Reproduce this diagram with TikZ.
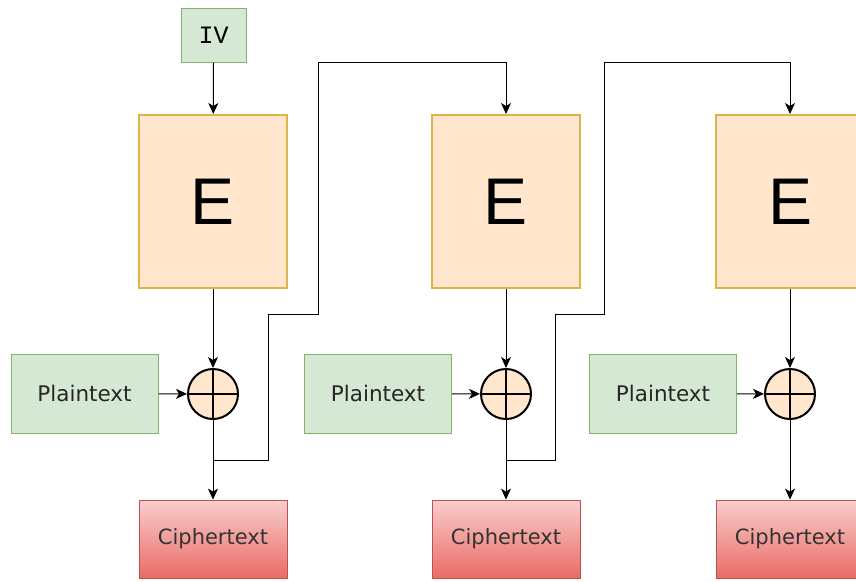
\documentclass[tikz,border=0pt]{standalone}
\usepackage{fontspec}
\setmainfont{DejaVu Sans}
\newfontfamily\boxfont{Liberation Sans}
\newfontfamily\monofont{Liberation Mono}
\usetikzlibrary{arrows.meta}
\definecolor{greenfill}{HTML}{D5E8D4}
\definecolor{greenline}{HTML}{82B366}
\definecolor{encfill}{HTML}{FFE6CC}
\definecolor{encline}{HTML}{DDB44A}
\definecolor{redtop}{HTML}{F8CECC}
\definecolor{redbot}{HTML}{EA6B66}
\definecolor{redline}{HTML}{B85450}
\tikzset{
  greenbox/.style={draw=greenline, fill=greenfill, line width=1pt, minimum width=147pt, minimum height=79pt, inner sep=0pt, font=\fontsize{21.5}{24}\selectfont, text=black!85},
  ivbox/.style={draw=greenline, fill=greenfill, line width=1pt, minimum width=65pt, minimum height=54pt, inner sep=0pt, font=\monofont\fontsize{25}{27}\selectfont},
  encbox/.style={draw=encline, fill=encfill, line width=2pt, minimum width=148pt, minimum height=173pt, inner sep=0pt, font=\boxfont\fontsize{66}{70}\selectfont},
  cipherbox/.style={draw=redline, top color=redtop, bottom color=redbot, line width=0.8pt, minimum width=148pt, minimum height=78pt, inner sep=0pt, font=\fontsize{21}{24}\selectfont, text=black!80},
  xorcircle/.style={draw=black, fill=encfill, line width=2pt, circle, minimum size=50pt, inner sep=0pt},
  tip/.style={-{Stealth[length=11pt,width=10pt,inset=3pt]}},
  link/.style={draw=black, line width=1pt, tip},
  plainline/.style={draw=black, line width=1pt}
}
\begin{document}
\begin{tikzpicture}[x=1pt, y=-1pt]
\useasboundingbox (0,0) rectangle (856,581);
\clip (0,0) rectangle (856,581);

% initialisation vector
\node[ivbox] (iv) at (213.5,35) {IV};

% encryption blocks
\foreach \i/\x in {1/213, 2/506, 3/790} {
  \node[encbox] (e\i) at (\x,201.5) {E};
  \node[xorcircle] (x\i) at (\x,394) {};
  \draw[line width=2pt] (x\i.north) -- (x\i.south) (x\i.west) -- (x\i.east);
  \node[cipherbox] (c\i) at (\x,539) {Ciphertext};
}
\node[greenbox] (p1) at (84.5,393.5) {Plaintext};
\node[greenbox] (p2) at (378,393.5) {Plaintext};
\node[greenbox] (p3) at (663,393.5) {Plaintext};

% straight data paths
\draw[link] (iv) -- (e1);
\foreach \i in {1,2,3} {
  \draw[link] (e\i) -- (x\i);
  \draw[link] (p\i) -- (x\i);
  \draw[link] (x\i) -- (c\i);
}

% ciphertext feedback into the next block
\coordinate (f1) at (213,460);
\coordinate (f2) at (506,460);
\draw[plainline, tip] (f1) -- (268,460) -- (268,314) -- (318,314) -- (318,62) -- (506,62) -- (e2.north);
\draw[plainline, tip] (f2) -- (555,460) -- (555,314) -- (604,314) -- (604,62) -- (790,62) -- (e3.north);
\end{tikzpicture}
\end{document}
